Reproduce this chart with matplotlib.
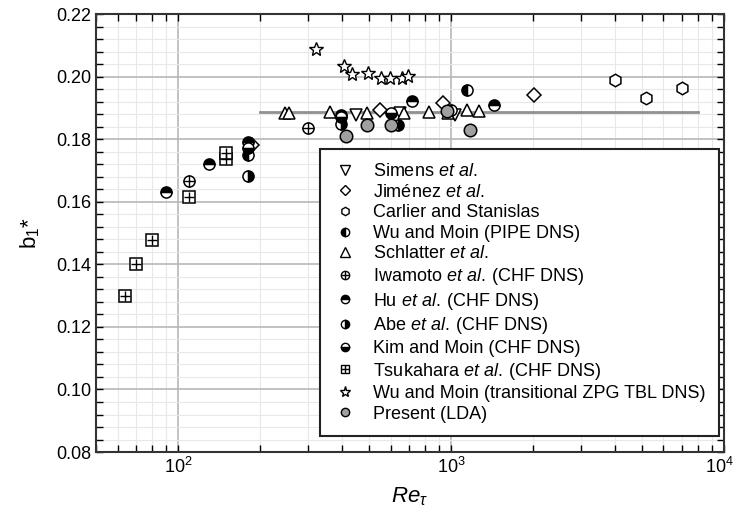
import numpy as np
import matplotlib
matplotlib.use("Agg")
import matplotlib.pyplot as plt
from matplotlib.lines import Line2D
from matplotlib.transforms import ScaledTranslation
from matplotlib.ticker import MultipleLocator, FixedLocator, LogLocator, NullFormatter

plt.rcParams['font.family'] = ['Liberation Sans', 'DejaVu Sans']
plt.rcParams['mathtext.fontset'] = 'custom'
plt.rcParams['mathtext.rm'] = 'Liberation Sans'
plt.rcParams['mathtext.it'] = 'Liberation Sans:italic'

# -------------------------------
# data (Re_tau, b1*)
# -------------------------------
simens_re = [448, 650, 1030]
simens_b = [0.1878, 0.1885, 0.1878]

jimenez_re = [186, 548, 936, 2010]
jimenez_b = [0.1780, 0.1895, 0.1917, 0.1940]

carlier_re = [3990, 5180, 7000]
carlier_b = [0.1990, 0.1932, 0.1963]

wu_pipe_re = [180, 1000, 1142]
wu_pipe_b = [0.1750, 0.1895, 0.1958]

schlatter_re = [246, 255, 359, 492, 671, 830, 974, 1145, 1271]
schlatter_b = [0.1883, 0.1883, 0.1888, 0.1885, 0.1885, 0.1888, 0.1885, 0.1892, 0.1890]

iwamoto_re = [110, 300]
iwamoto_b = [0.1665, 0.1837]

hu_re = [90, 130, 180, 395, 720, 1440]
hu_b = [0.1630, 0.1722, 0.1790, 0.1877, 0.1923, 0.1908]

abe_re = [180, 395, 640]
abe_b = [0.1682, 0.1848, 0.1845]

kim_re = [180, 395, 600]
kim_b = [0.1773, 0.1870, 0.1885]

tsukahara_re = [64, 70, 80, 110, 150, 150]
tsukahara_b = [0.1300, 0.1402, 0.1478, 0.1614, 0.1738, 0.1755]

wu_tbl_re = [320, 405, 435, 497, 552, 597, 663, 695]
wu_tbl_b = [0.2090, 0.2035, 0.2010, 0.2012, 0.1995, 0.1995, 0.1995, 0.2003]

present_re = [411, 494, 604, 964, 1172]
present_b = [0.1810, 0.1846, 0.1846, 0.1890, 0.1829]

line_re = [200, 8000]
line_b = [0.1887, 0.1887]

x_ticks = [1e2, 1e3, 1e4]
x_ticklabels = [r'10$^2$', r'10$^3$', r'10$^4$']

# -------------------------------
# figure
# -------------------------------
fig = plt.figure(figsize=(7.36, 5.22), dpi=100)
ax = fig.add_axes([0.1304, 0.134, 0.8533, 0.839])
ax.set_xscale('log')
ax.set_xlim(50, 1e4)
ax.set_ylim(0.08, 0.22)

ax.plot(line_re, line_b, color='#909090', lw=2, zorder=2)

ms = 8
mew = 1.1
base = dict(ls='none', ms=ms, mew=mew, mec='black', zorder=3)

ax.plot(simens_re, simens_b, marker='v', mfc='white', **base)
ax.plot(jimenez_re, jimenez_b, marker='D', mfc='white', **dict(base, ms=7))
ax.plot(carlier_re, carlier_b, marker='h', mfc='white', **dict(base, ms=9))
ax.plot(wu_pipe_re, wu_pipe_b, marker='o', mfc='black', mfcalt='white', fillstyle='left', **base)
ax.plot(schlatter_re, schlatter_b, marker='^', mfc='white', **base)
ax.plot(iwamoto_re, iwamoto_b, marker='o', mfc='white', **base)
ax.plot(iwamoto_re, iwamoto_b, marker='+', **dict(base, ms=8, mew=1.0))
ax.plot(hu_re, hu_b, marker='o', mfc='black', mfcalt='white', fillstyle='top', **base)
ax.plot(abe_re, abe_b, marker='o', mfc='black', mfcalt='white', fillstyle='right', **base)
ax.plot(kim_re, kim_b, marker='o', mfc='black', mfcalt='white', fillstyle='bottom', **base)
ax.plot(tsukahara_re, tsukahara_b, marker='s', mfc='white', **base)
ax.plot(tsukahara_re, tsukahara_b, marker='+', **dict(base, ms=7.5, mew=1.0))
ax.plot(wu_tbl_re, wu_tbl_b, marker='*', mfc='white', **dict(base, ms=10, mew=1.0))
ax.plot(present_re, present_b, marker='o', mfc='#a0a0a0', **dict(base, ms=9))

# grid and ticks
ax.yaxis.set_major_locator(MultipleLocator(0.02))
ax.yaxis.set_minor_locator(MultipleLocator(0.004))
ax.xaxis.set_major_locator(FixedLocator(x_ticks))
ax.set_xticklabels(x_ticklabels)
ax.xaxis.set_minor_locator(LogLocator(base=10, subs=np.arange(2, 10)))
ax.xaxis.set_minor_formatter(NullFormatter())
ax.yaxis.set_major_formatter(plt.FuncFormatter(lambda v, p: f"{v:.2f}"))
ax.grid(which='major', color='#b8b8b8', lw=1.2)
ax.grid(which='minor', color='#e8e8e8', lw=0.8)
ax.set_axisbelow(True)
ax.tick_params(which='both', direction='in', top=True, right=True, labelsize=13, width=1)
ax.tick_params(which='major', length=5)
ax.tick_params(which='minor', length=5)
for s in ax.spines.values():
    s.set_linewidth(1.5)
    s.set_color('#333333')

# nudge the last x tick label so it stays inside the figure
last = ax.get_xticklabels()[-1]
last.set_transform(last.get_transform() + ScaledTranslation(-3 / 72, 0, fig.dpi_scale_trans))

ax.set_xlabel(r'$Re_\tau$', fontsize=16, labelpad=6)
ax.set_ylabel(r'b$_1$*', fontsize=16, labelpad=10)

# legend
def mk(**kw):
    d = dict(ls='none', ms=6, mew=1.0, mec='black')
    d.update(kw)
    return Line2D([], [], **d)

handles = [
    mk(marker='v', mfc='white', ms=6.5),
    mk(marker='D', mfc='white', ms=5.5),
    mk(marker='h', mfc='white'),
    mk(marker='o', mfc='black', mfcalt='white', fillstyle='left'),
    mk(marker='^', mfc='white', ms=6.5),
    (mk(marker='o', mfc='white'), mk(marker='+', ms=6)),
    mk(marker='o', mfc='black', mfcalt='white', fillstyle='top'),
    mk(marker='o', mfc='black', mfcalt='white', fillstyle='right'),
    mk(marker='o', mfc='black', mfcalt='white', fillstyle='bottom'),
    (mk(marker='s', mfc='white'), mk(marker='+', ms=5.5)),
    mk(marker='*', mfc='white', ms=8),
    mk(marker='o', mfc='#a0a0a0'),
]
labels = [
    r'Simens $et\ al.$',
    r'Jiménez $et\ al.$',
    'Carlier and Stanislas',
    'Wu and Moin (PIPE DNS)',
    r'Schlatter $et\ al.$',
    'Iwamoto $et\\ al.$\u2009(CHF DNS)',
    'Hu $et\\ al.$\u2009(CHF DNS)',
    'Abe $et\\ al.$\u2009(CHF DNS)',
    'Kim and Moin (CHF DNS)',
    'Tsukahara $et\\ al.$\u2009(CHF DNS)',
    'Wu and Moin (transitional ZPG TBL DNS)',
    'Present (LDA)',
]
leg = ax.legend(handles, labels, loc='lower right', bbox_to_anchor=(0.992, 0.036),
                fontsize=13, frameon=True, fancybox=False, edgecolor='#222222',
                framealpha=1, labelspacing=0.2, handlelength=1.3, handletextpad=0.9,
                borderpad=0.75, borderaxespad=0)
leg.get_frame().set_linewidth(1.5)

fig.savefig('out.png', dpi=100)
